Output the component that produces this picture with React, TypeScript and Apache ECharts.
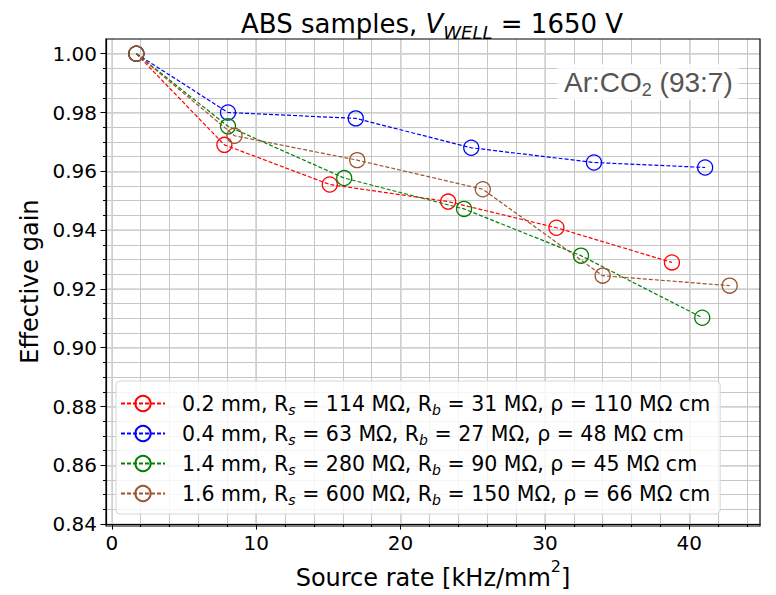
import React, { useEffect, useRef } from "react";
import * as echarts from "echarts";

const SAMPLES = ["0.2 mm", "0.4 mm", "1.4 mm", "1.6 mm"];
const RS = [114, 63, 280, 600];
const RB = [31, 27, 90, 150];
const RHO = [110, 48, 45, 66];
const COLORS = ["#ff0000", "#0000ff", "#008000", "#a0522d"];

const X_02 = [1.7, 7.8, 15.1, 23.3, 30.8, 38.8];
const Y_02 = [1.0, 0.969, 0.9555, 0.9497, 0.9408, 0.929];
const X_04 = [1.7, 8.05, 16.9, 24.9, 33.4, 41.1];
const Y_04 = [1.0, 0.98, 0.978, 0.968, 0.963, 0.9613];
const X_14 = [1.7, 8.05, 16.1, 24.4, 32.5, 40.9];
const Y_14 = [1.0, 0.9753, 0.9577, 0.9472, 0.9313, 0.9102];
const X_16 = [1.7, 8.5, 17.0, 25.7, 34.0, 42.8];
const Y_16 = [1.0, 0.9721, 0.9638, 0.9539, 0.9245, 0.9211];

const XS = [X_02, X_04, X_14, X_16];
const YS = [Y_02, Y_04, Y_14, Y_16];

const X_MIN = -0.4;
const X_MAX = 44.9;
const Y_MIN = 0.84;
const Y_MAX = 1.005;
const X_MAJOR_TICKS = [0, 10, 20, 30, 40];
const X_MINOR_TICKS = [0, 2, 4, 6, 8, 10, 12, 14, 16, 18, 20, 22, 24, 26, 28, 30, 32, 34, 36, 38, 40, 42, 44];
const Y_MAJOR_TICKS = [0.84, 0.86, 0.88, 0.9, 0.92, 0.94, 0.96, 0.98, 1.0];
const Y_MINOR_TICKS = [
  0.84, 0.845, 0.85, 0.855, 0.86, 0.865, 0.87, 0.875, 0.88, 0.885, 0.89, 0.895,
  0.9, 0.905, 0.91, 0.915, 0.92, 0.925, 0.93, 0.935, 0.94, 0.945, 0.95, 0.955,
  0.96, 0.965, 0.97, 0.975, 0.98, 0.985, 0.99, 0.995, 1.0,
];

const FONT = "DejaVu Sans";
const MINOR_GRID = { color: "#c6c6c6", width: 1 };
const MAJOR_GRID = { color: "#d2d2d2", width: 1.6 };

export default function App() {
  const ref = useRef<HTMLDivElement>(null);
  useEffect(() => {
    if (!ref.current) return;
    const chart = echarts.init(ref.current, undefined, { renderer: "svg" });

    const series = SAMPLES.map((name, i) => ({
      name,
      type: "line",
      xAxisIndex: 0,
      yAxisIndex: 0,
      data: XS[i].map((x, j) => [x, YS[i][j]]),
      symbol: "circle",
      symbolSize: 15,
      showSymbol: true,
      clip: false,
      lineStyle: { color: COLORS[i], width: 1.2, type: [4, 2] },
      itemStyle: { color: "rgba(0,0,0,0)", borderColor: COLORS[i], borderWidth: 1.3 },
      emphasis: { disabled: true },
      z: 3 + i,
    }));

    const legendLabel: Record<string, string> = {};
    SAMPLES.forEach((s, i) => {
      legendLabel[s] =
        `{n|${s}, R}{s|s}{n| = ${RS[i]} MΩ, R}{s|b}{n| = ${RB[i]} MΩ, ρ = ${RHO[i]} MΩ cm}`;
    });

    chart.setOption({
      animation: false,
      backgroundColor: "#ffffff",
      title: {
        text: "{n|ABS samples, }{i|V}{s|WELL}{n| = 1650 V}",
        left: 236,
        top: 1,
        textStyle: {
          fontWeight: "normal",
          rich: {
            n: { fontFamily: FONT, fontSize: 26, fontWeight: "normal", color: "#000", lineHeight: 35 },
            i: { fontFamily: FONT, fontSize: 26, fontWeight: "normal", fontStyle: "italic", color: "#000", lineHeight: 35 },
            s: {
              fontFamily: FONT,
              fontSize: 18,
              fontWeight: "normal",
              fontStyle: "italic",
              color: "#000",
              lineHeight: 35,
              verticalAlign: "bottom",
            },
          },
        },
      },
      grid: { left: 106, top: 39, right: 16, bottom: 69, containLabel: false },
      legend: {
        data: SAMPLES,
        orient: "vertical",
        left: 116,
        top: 381,
        itemWidth: 44,
        itemHeight: 19,
        itemGap: 6,
        padding: [12, 10, 7, 4],
        backgroundColor: "rgba(255,255,255,0.82)",
        borderColor: "#d6d6d6",
        borderWidth: 1,
        borderRadius: 4,
        formatter: (name: string) => legendLabel[name],
        textStyle: {
          padding: [0, 0, 0, 12],
          rich: {
            n: { fontFamily: FONT, fontSize: 20.5, color: "#000", lineHeight: 24 },
            s: {
              fontFamily: FONT,
              fontSize: 14,
              fontStyle: "italic",
              color: "#000",
              lineHeight: 27,
              verticalAlign: "bottom",
            },
          },
        },
      },
      xAxis: [
        {
          type: "value",
          position: "bottom",
          min: X_MIN,
          max: X_MAX,
          axisLine: { show: false, onZero: false },
          axisTick: {
            show: true,
            length: 3,
            customValues: X_MINOR_TICKS,
            lineStyle: { color: "#000", width: 1 },
          },
          axisLabel: { show: false },
          splitLine: { show: true, lineStyle: MINOR_GRID },
        },
        {
          type: "value",
          position: "bottom",
          min: X_MIN,
          max: X_MAX,
          name: "{n|Source rate [kHz/mm}{p|2}{n|]}",
          nameLocation: "middle",
          nameGap: 30,
          nameTextStyle: {
            rich: {
              n: { fontFamily: FONT, fontSize: 24, color: "#000", lineHeight: 32, verticalAlign: "bottom" },
              p: { fontFamily: FONT, fontSize: 16, color: "#000", lineHeight: 32, verticalAlign: "top" },
            },
          },
          axisLine: { show: true, onZero: false, lineStyle: { color: "#000", width: 1.2 } },
          axisTick: {
            show: true,
            length: 5.5,
            customValues: X_MAJOR_TICKS,
            lineStyle: { color: "#000", width: 1 },
          },
          axisLabel: {
            customValues: X_MAJOR_TICKS,
            margin: 9,
            fontFamily: FONT,
            fontSize: 20,
            color: "#000",
            formatter: (v: number) => String(Math.round(v)),
          },
          splitLine: { show: true, lineStyle: MAJOR_GRID },
        },
      ],
      yAxis: [
        {
          type: "value",
          position: "left",
          min: Y_MIN,
          max: Y_MAX,
          axisLine: { show: false, onZero: false },
          axisTick: {
            show: true,
            length: 3,
            customValues: Y_MINOR_TICKS,
            lineStyle: { color: "#000", width: 1 },
          },
          axisLabel: { show: false },
          splitLine: { show: true, lineStyle: MINOR_GRID },
        },
        {
          type: "value",
          position: "left",
          min: Y_MIN,
          max: Y_MAX,
          name: "Effective gain",
          nameLocation: "middle",
          nameGap: 62,
          nameTextStyle: { fontFamily: FONT, fontSize: 24, color: "#000" },
          axisLine: { show: true, onZero: false, lineStyle: { color: "#000", width: 1.2 } },
          axisTick: {
            show: true,
            length: 5.5,
            customValues: Y_MAJOR_TICKS,
            lineStyle: { color: "#000", width: 1 },
          },
          axisLabel: {
            customValues: Y_MAJOR_TICKS,
            margin: 9,
            fontFamily: FONT,
            fontSize: 20,
            color: "#000",
            formatter: (v: number) => v.toFixed(2),
          },
          splitLine: { show: true, lineStyle: MAJOR_GRID },
        },
      ],
      graphic: [
        {
          type: "rect",
          z: 50,
          silent: true,
          shape: { x: 106, y: 39, width: 654, height: 487 },
          style: { fill: "none", stroke: "#000", lineWidth: 1.2 },
        },
        {
          type: "rect",
          z: 40,
          silent: true,
          shape: { x: 557, y: 64, width: 182, height: 36, r: 3 },
          style: { fill: "rgba(255,255,255,0.85)", stroke: "none" },
        },
        {
          type: "text",
          z: 41,
          silent: true,
          x: 564,
          y: 65,
          style: {
            text: "{n|Ar:CO}{s|2}{n| (93:7)}",
            rich: {
              n: { fontFamily: "Liberation Sans", fontSize: 28, fill: "#555555", lineHeight: 34, verticalAlign: "middle" },
              s: { fontFamily: "Liberation Sans", fontSize: 18, fill: "#555555", lineHeight: 34, verticalAlign: "bottom" },
            },
          },
        },
      ],
      series,
    });
    return () => chart.dispose();
  }, []);
  return (
    <div
      ref={ref}
      style={{ position: "absolute", left: 0, top: 0, width: 776, height: 595 }}
    />
  );
}
